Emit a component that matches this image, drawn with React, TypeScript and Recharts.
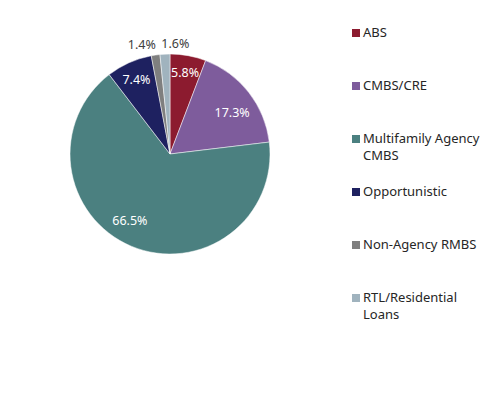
import React from 'react';
import { PieChart, Pie, Cell, Legend } from 'recharts';

const categories = ['ABS', 'CMBS/CRE', 'Multifamily Agency CMBS', 'Opportunistic', 'Non-Agency RMBS', 'RTL/Residential Loans'];
const shares = [5.8, 17.3, 66.5, 7.4, 1.4, 1.6];
const colors = ['#8C1B2F', '#7E5C9C', '#4B8080', '#1E2160', '#7F7F7F', '#A0B3BE'];
const legendLines = [['ABS'], ['CMBS/CRE'], ['Multifamily Agency', 'CMBS'], ['Opportunistic'], ['Non-Agency RMBS'], ['RTL/Residential', 'Loans']];

const chartData = categories.map((name, i) => ({ name, value: shares[i] }));

const FONT = '"Noto Sans", "Open Sans", sans-serif';
const RAD = Math.PI / 180;

// label radius as a fraction of the outer radius; small slices sit outside
const labelRadius = [0.83, 0.7, 0.75, 0.82, 1.12, 1.12];
const labelShiftX = [0, 7, -11, 0, -12, 11];
const labelShiftY = [0, 2, -3, 0, 1, 1];

const renderLabel = (props: any) => {
  const { cx, cy, midAngle, outerRadius, index, value } = props;
  const r = outerRadius * labelRadius[index];
  const x = cx + r * Math.cos(-midAngle * RAD) + labelShiftX[index];
  const y = cy + r * Math.sin(-midAngle * RAD) + labelShiftY[index];
  const outside = labelRadius[index] > 1;
  return (
    <text
      x={x}
      y={y}
      fill={outside ? '#404040' : '#ffffff'}
      fontSize={12.5}
      fontFamily={FONT}
      textAnchor="middle"
      dominantBaseline="central"
    >
      {`${value.toFixed(1)}%`}
    </text>
  );
};

const renderLegend = () => (
  <div style={{ fontFamily: FONT, fontSize: 13, color: '#262626' }}>
    {legendLines.map((lines, i) => (
      <div key={i} style={{ position: 'absolute', top: 53 * i, left: 0, display: 'flex', alignItems: 'flex-start', width: 142 }}>
        <span style={{ width: 8, height: 8, background: colors[i], marginTop: 5, marginRight: 3, flexShrink: 0 }} />
        <span style={{ lineHeight: '17px' }}>
          {lines.map((l, j) => (
            <div key={j}>{l}</div>
          ))}
        </span>
      </div>
    ))}
  </div>
);

export default function App() {
  return (
    <div style={{ position: 'absolute', left: 0, top: 0, background: '#fff' }}>
      <PieChart width={494} height={393} margin={{ top: 0, right: 0, bottom: 0, left: 0 }}>
        <Pie
          data={chartData}
          dataKey="value"
          cx={170}
          cy={154}
          outerRadius={100}
          startAngle={90}
          endAngle={-270}
          stroke="#ffffff"
          strokeWidth={0.5}
          label={renderLabel}
          labelLine={false}
          isAnimationActive={false}
        >
          {chartData.map((d, i) => (
            <Cell key={d.name} fill={colors[i]} />
          ))}
        </Pie>
        <Legend
          content={renderLegend}
          wrapperStyle={{ position: 'absolute', left: 352, top: 24, width: 142, height: 320 }}
        />
      </PieChart>
    </div>
  );
}
